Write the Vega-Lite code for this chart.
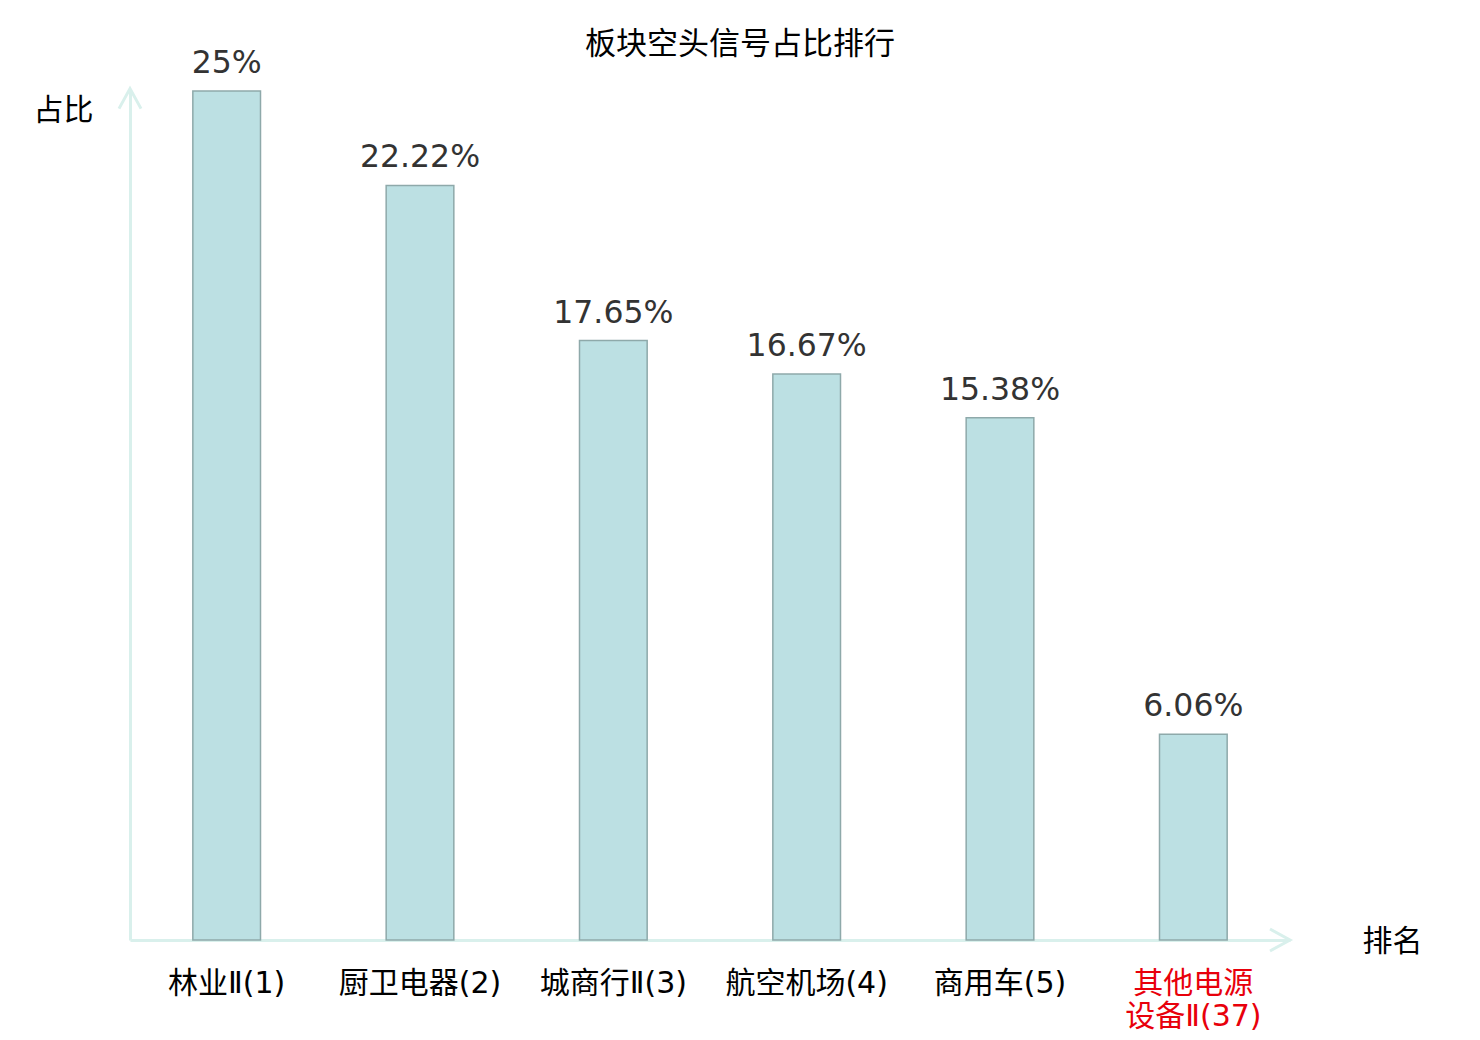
{
  "$schema": "https://vega.github.io/schema/vega-lite/v6.json",
  "description": "板块空头信号占比排行",
  "width": 1160,
  "height": 849,
  "autosize": {"type": "none"},
  "padding": {"left": 130, "top": 91, "right": 190, "bottom": 100},
  "background": "white",
  "config": {
    "view": {"stroke": null},
    "font": "DejaVu Sans, Noto Sans CJK SC"
  },
  "title": {
    "text": "板块空头信号占比排行",
    "fontSize": 31,
    "fontWeight": "normal",
    "color": "#000000",
    "font": "Noto Sans CJK SC",
    "anchor": "middle",
    "frame": "group",
    "baseline": "middle",
    "offset": -28,
    "dx": 30
  },
  "data": {
    "values": [
      {"板块": "林业Ⅱ(1)", "占比": 0.25},
      {"板块": "厨卫电器(2)", "占比": 0.2222},
      {"板块": "城商行Ⅱ(3)", "占比": 0.1765},
      {"板块": "航空机场(4)", "占比": 0.1667},
      {"板块": "商用车(5)", "占比": 0.1538},
      {"板块": "其他电源设备Ⅱ(37)", "占比": 0.0606}
    ]
  },
  "layer": [
    {
      "encoding": {
        "x": {
          "field": "板块",
          "type": "nominal",
          "sort": null,
          "scale": {"paddingInner": 0.65, "paddingOuter": 0.325},
          "axis": {
            "title": "排名",
            "titleFontSize": 30,
            "titleFontWeight": "normal",
            "titleColor": "#000000",
            "titleFont": "Noto Sans CJK SC",
            "titleAngle": 0,
            "titleAlign": "center",
            "titleBaseline": "middle",
            "titleX": 1262,
            "titleY": 1,
            "labelAngle": 0,
            "labelFontSize": 30,
            "labelColor": {
              "condition": {"test": "datum.value == '其他电源设备Ⅱ(37)'", "value": "#e8000b"},
              "value": "#000000"
            },
            "labelExpr": "datum.value == '其他电源设备Ⅱ(37)' ? ['其他电源', '设备Ⅱ(37)'] : datum.value",
            "labelBaseline": "top",
            "labelPadding": 28,
            "labelLineHeight": 33,
            "labelLimit": 300,
            "ticks": false,
            "domainColor": "#d9f0ec",
            "domainWidth": 3
          }
        },
        "y": {
          "field": "占比",
          "type": "quantitative",
          "scale": {"domain": [0, 0.25], "nice": false},
          "axis": {
            "title": "占比",
            "titleFontSize": 30,
            "titleFontWeight": "normal",
            "titleColor": "#000000",
            "titleFont": "Noto Sans CJK SC",
            "titleAngle": 0,
            "titleAlign": "center",
            "titleBaseline": "middle",
            "titleX": -67,
            "titleY": 19,
            "labels": false,
            "ticks": false,
            "grid": false,
            "domainColor": "#d9f0ec",
            "domainWidth": 3
          }
        }
      },
      "layer": [
        {
          "mark": {"type": "bar", "fill": "#bce0e3", "stroke": "#8ea9aa", "strokeWidth": 1.5}
        },
        {
          "mark": {"type": "text", "fontSize": 31.5, "color": "#333333", "baseline": "alphabetic", "dy": -18},
          "encoding": {
            "text": {"field": "占比", "type": "quantitative", "format": ".2~%"}
          }
        }
      ]
    },
    {
      "data": {"values": [{"轴": "x", "px": 1, "py": 0, "dir": "right"}, {"轴": "y", "px": 0, "py": 0.2507, "dir": "up"}]},
      "mark": {"type": "point", "filled": false, "stroke": "#d9f0ec", "strokeWidth": 3, "size": 1600, "opacity": 1},
      "encoding": {
        "x": {"field": "px", "type": "quantitative", "scale": {"domain": [0, 1], "nice": false}, "axis": null},
        "y": {"field": "py", "type": "quantitative"},
        "shape": {
          "field": "dir",
          "type": "nominal",
          "scale": {"domain": ["right", "up"], "range": ["M-1,-0.55L0,0L-1,0.55", "M-0.55,1L0,0L0.55,1"]},
          "legend": null
        }
      }
    }
  ],
  "resolve": {"scale": {"x": "independent"}}
}
